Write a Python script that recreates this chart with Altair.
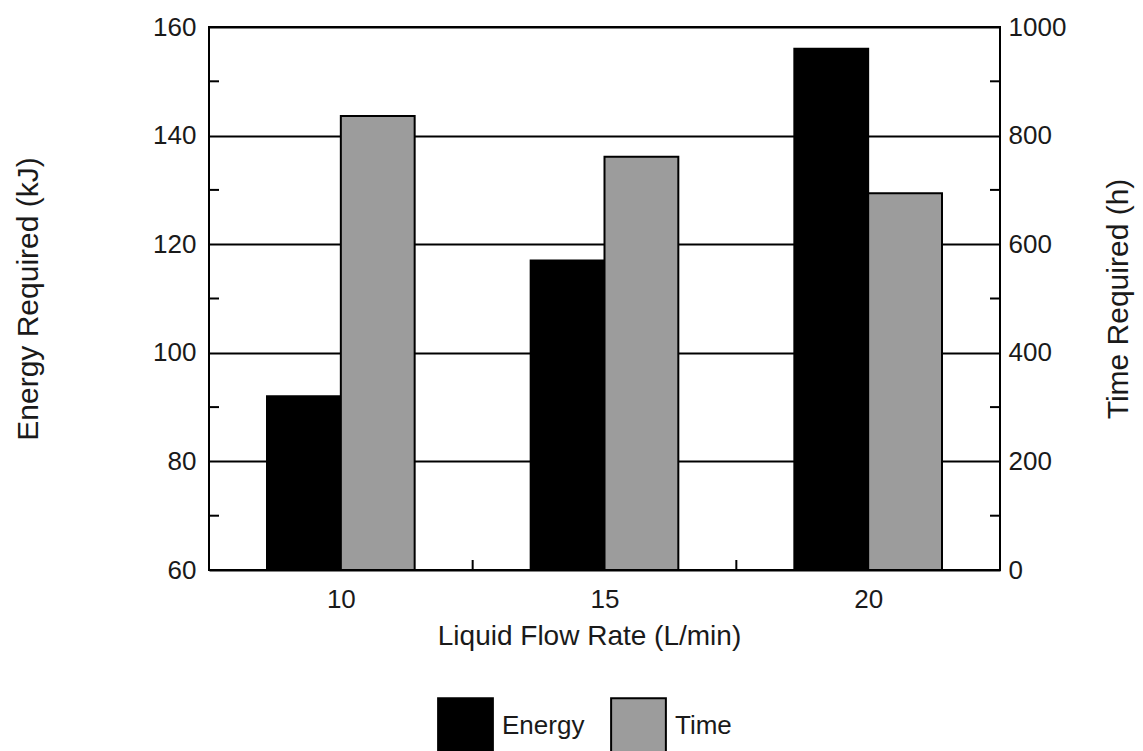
import altair as alt
import pandas as pd

# ---- data ----
rates = [10, 15, 20]
energy_kj = [92, 117, 156]
time_h = [836, 761, 694]
series = ["Energy", "Time"]
energy_ticks = [60, 80, 100, 120, 140, 160]
time_ticks = [0, 200, 400, 600, 800, 1000]
energy_minor = [70, 90, 110, 130, 150]
rate_minor = [12.5, 17.5]

# ---- layout / style ----
W, H = 791, 543
HALF = 1.4
FONT = "Liberation Sans"
TXT = "#1a1a1a"
TICK = 10

df = pd.DataFrame({"rate": rates, "energy": energy_kj, "time": time_h})

x_scale = alt.Scale(domain=[7.5, 22.5], nice=False, zero=False)
x_axis = alt.Axis(values=rates, format="d", title="Liquid Flow Rate (L/min)",
                  ticks=False, domain=False, grid=False, labelPadding=16,
                  titlePadding=10, labelFontSize=26, titleFontSize=28, titleX=380)
color_scale = alt.Scale(domain=series, range=["#000000", "#9c9c9c"])
legend = alt.Legend(title=None, orient="none", legendX=228, legendY=670,
                    direction="horizontal", symbolType="square", symbolSize=3000,
                    symbolStrokeColor="black", symbolStrokeWidth=2,
                    labelFontSize=26, labelFont=FONT, labelColor=TXT,
                    columnPadding=22, labelOffset=8)

energy = alt.Chart(df).transform_calculate(
    series="'Energy'", x0=f"datum.rate - {HALF}", x1="datum.rate"
).mark_bar(stroke="black", strokeWidth=2).encode(
    x=alt.X("x0:Q", scale=x_scale, axis=x_axis),
    x2="x1:Q",
    y=alt.Y("energy:Q", scale=alt.Scale(domain=[60, 160], nice=False, zero=False),
            axis=alt.Axis(values=energy_ticks, orient="left", title="Energy Required (kJ)",
                          grid=True, gridColor="black", gridWidth=2, gridOpacity=1,
                          ticks=False, domain=False, labelPadding=13,
                          titlePadding=109, labelFontSize=26, titleFontSize=30)),
    y2=alt.datum(60),
    color=alt.Color("series:N", scale=color_scale, legend=legend),
)

time = alt.Chart(df).transform_calculate(
    series="'Time'", x0="datum.rate", x1=f"datum.rate + {HALF}"
).mark_bar(stroke="black", strokeWidth=2).encode(
    x=alt.X("x0:Q", scale=x_scale, axis=x_axis),
    x2="x1:Q",
    y=alt.Y("time:Q", scale=alt.Scale(domain=[0, 1000], nice=False),
            axis=alt.Axis(values=time_ticks, format="d", orient="right",
                          title="Time Required (h)", titleAngle=270,
                          grid=False, ticks=False, domain=False, labelPadding=8,
                          titlePadding=68, labelFontSize=26, titleFontSize=30)),
    y2=alt.datum(0),
    color=alt.Color("series:N", scale=color_scale, legend=legend),
)

minor_df = pd.DataFrame({"v": energy_minor})
minor_scale = alt.Scale(domain=[60, 160], nice=False, zero=False)
left_ticks = alt.Chart(minor_df).mark_rule(color="black", strokeWidth=2).encode(
    y=alt.Y("v:Q", scale=minor_scale, axis=None),
    x=alt.value(0), x2=alt.value(TICK),
)
right_ticks = alt.Chart(minor_df).mark_rule(color="black", strokeWidth=2).encode(
    y=alt.Y("v:Q", scale=minor_scale, axis=None),
    x=alt.value(W - TICK), x2=alt.value(W),
)
bottom_ticks = alt.Chart(pd.DataFrame({"x0": rate_minor})).mark_rule(
    color="black", strokeWidth=2
).encode(
    x=alt.X("x0:Q", scale=x_scale, axis=x_axis),
    y=alt.value(H - TICK), y2=alt.value(H),
)

chart = alt.layer(energy, time, left_ticks, right_ticks, bottom_ticks).resolve_scale(
    y="independent"
).properties(
    width=W, height=H,
    autosize=alt.AutoSizeParams(type="none"),
    padding={"left": 209, "top": 27, "right": 1143 - 209 - W, "bottom": 751 - 27 - H},
    background="white",
).configure_view(
    stroke="black", strokeWidth=2
).configure_axis(
    labelFont=FONT, titleFont=FONT, labelColor=TXT, titleColor=TXT,
    titleFontWeight="normal",
)

chart.save("out.html", embed_options={"renderer": "svg", "actions": False})
